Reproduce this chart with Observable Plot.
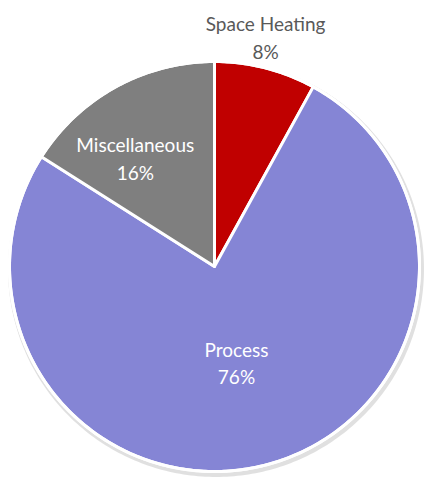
<!DOCTYPE html>
<html><head><meta charset="utf-8">
<script src="https://cdn.jsdelivr.net/npm/d3@7"></script>
<script src="https://cdn.jsdelivr.net/npm/@observablehq/plot@0.6"></script>
<style>body{margin:0;background:#fff}</style>
</head><body><div id="chart"></div>
<script>
const categories = ["Space Heating", "Process", "Miscellaneous"];
const values = [8, 76, 16];
const colors = ["#C00000", "#8585D5", "#7F7F7F"];
const labelColors = ["#595959", "#ffffff", "#ffffff"];
const labelRadius = [1.16, 0.49, 0.63];
const labelShiftX = [-8, -3, -17];   // pixels
const labelShiftY = [0, -2, 4];      // pixels (down)

const W = 425, H = 479, cx = 214, cy = 266, R = 205;
const total = d3.sum(values);
const pie = d3.pie().sort(null).value(d => d)(values);

const poly = [];
pie.forEach((p, i) => {
  const n = Math.max(4, Math.ceil((p.endAngle - p.startAngle) * 80));
  poly.push({cat: categories[i], x: 0, y: 0});
  for (let k = 0; k <= n; k++) {
    const a = p.startAngle + (p.endAngle - p.startAngle) * k / n;
    poly.push({cat: categories[i], x: Math.sin(a), y: Math.cos(a)});
  }
  poly.push({cat: categories[i], x: 0, y: 0});
});

const circle = d3.range(0, 361).map(d => ({x: Math.sin(d * Math.PI / 180), y: Math.cos(d * Math.PI / 180)}));

const labels = pie.map((p, i) => {
  const a = (p.startAngle + p.endAngle) / 2;
  return {cat: categories[i], text: categories[i] + "\n" + Math.round(values[i] / total * 100) + "%",
    x: Math.sin(a) * labelRadius[i] + labelShiftX[i] / R,
    y: Math.cos(a) * labelRadius[i] - labelShiftY[i] / R, color: labelColors[i]};
});

const chart = Plot.plot({
  width: W, height: H, margin: 0,
  x: {domain: [-cx / R, (W - cx) / R], axis: null},
  y: {domain: [-(H - cy) / R, cy / R], axis: null},
  color: {domain: categories, range: colors},
  marks: [
    Plot.line(circle, {x: "x", y: "y", stroke: "#000", strokeOpacity: 0.12, strokeWidth: 6, dx: 1.5, dy: 2.5, curve: "linear"}),
    Plot.line(poly, {x: "x", y: "y", z: "cat", fill: "cat", stroke: "#fff", strokeWidth: 3, strokeLinejoin: "round"}),
    Plot.line(circle, {x: "x", y: "y", stroke: "#fff", strokeWidth: 3}),
    Plot.text(labels, {x: "x", y: "y", text: "text", fill: "color", fontSize: 19, lineHeight: 1.45, fontFamily: "Lato"})
  ]
});
document.getElementById("chart").append(chart);
</script></body></html>
